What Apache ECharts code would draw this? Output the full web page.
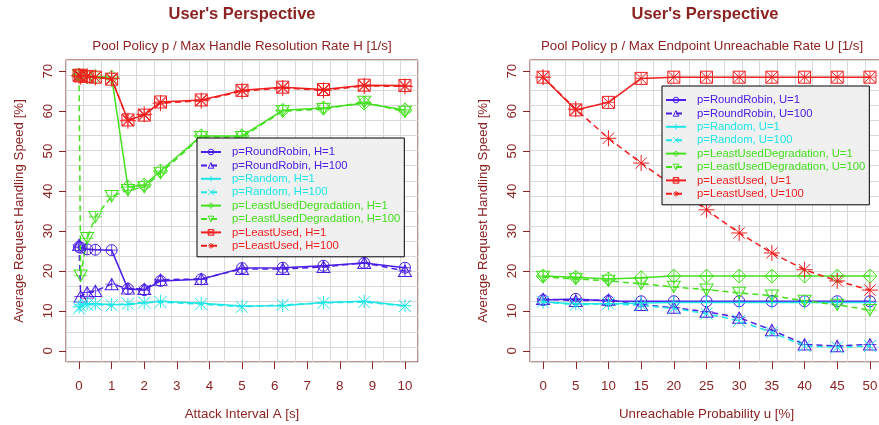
<!DOCTYPE html>
<html>
<head>
<meta charset="utf-8">
<script src="https://cdn.jsdelivr.net/npm/echarts@6/dist/echarts.min.js"></script>
<style>
  html, body { margin: 0; padding: 0; background: #ffffff; }
  #chart { width: 879px; height: 425px; }
</style>
</head>
<body>
<div id="chart"></div>
<script>
// ---- data: left panel (x = attack interval A [s]) ----
const attackInterval = [0, 0.05, 0.25, 0.5, 1, 1.5, 2, 2.5, 3.75, 5, 6.25, 7.5, 8.75, 10];
const rrH1      = [26.0, 25.8, 25.4, 25.3, 25.2, 15.5, 15.2, 17.5, 17.9, 20.7, 20.8, 21.3, 22.0, 20.8];
const rrH100    = [26.5, 13.6, 14.6, 15.0, 16.7, 15.6, 15.5, 17.8, 18.0, 20.5, 20.5, 21.0, 22.0, 20.0];
const randH1    = [11.0, 11.5, 11.8, 11.8, 11.6, 11.6, 12.0, 12.4, 11.9, 11.2, 11.3, 12.1, 12.4, 11.3];
const randH100  = [10.6, 11.2, 11.5, 11.6, 11.4, 11.8, 12.1, 12.2, 11.7, 11.0, 11.5, 12.0, 12.2, 11.2];
const ludH1     = [69.0, 68.8, 68.6, 68.6, 68.5, 41.0, 41.5, 45.0, 53.8, 53.8, 60.2, 60.8, 62.0, 60.3];
const ludH100   = [69.0, 18.8, 28.2, 33.5, 38.7, 40.2, 41.0, 44.5, 53.5, 53.5, 60.0, 60.5, 62.3, 59.8];
const luH1      = [69.0, 68.8, 68.7, 68.5, 68.0, 57.8, 59.0, 62.3, 62.8, 65.2, 66.0, 65.4, 66.5, 66.4];
const luH100    = [68.8, 68.6, 68.8, 68.4, 68.2, 57.6, 59.2, 62.0, 62.6, 65.0, 65.8, 65.2, 66.3, 66.2];

// ---- data: right panel (x = unreachable probability u [%]) ----
const unreachProb = [0, 5, 10, 15, 20, 25, 30, 35, 40, 45, 50];
const rrU1      = [12.7, 13.0, 12.5, 12.4, 12.4, 12.4, 12.4, 12.4, 12.4, 12.4, 12.4];
const rrU100    = [13.0, 12.5, 12.8, 11.5, 10.8, 9.8, 8.3, 5.2, 1.6, 1.2, 1.6];
const randU1    = [12.2, 11.8, 11.8, 12.0, 12.1, 12.1, 12.1, 12.1, 12.1, 12.1, 12.1];
const randU100  = [12.3, 11.5, 11.8, 11.4, 10.6, 9.3, 7.5, 4.6, 1.2, 0.9, 1.2];
const ludU1     = [18.7, 18.4, 18.0, 18.3, 18.7, 18.7, 18.7, 18.7, 18.7, 18.7, 18.7];
const ludU100   = [18.5, 18.0, 17.5, 16.8, 16.0, 15.3, 14.5, 13.8, 12.5, 11.5, 10.2];
const luU1      = [68.5, 60.3, 62.2, 68.2, 68.5, 68.5, 68.5, 68.5, 68.5, 68.5, 68.5];
const luU100    = [68.5, 60.5, 53.2, 47.0, 41.2, 35.3, 29.5, 24.5, 20.3, 17.5, 15.2];

// ---- tick labels ----
const leftXTicks  = [0, 1, 2, 3, 4, 5, 6, 7, 8, 9, 10];
const rightXTicks = [0, 5, 10, 15, 20, 25, 30, 35, 40, 45, 50];
const yTicks      = [0, 10, 20, 30, 40, 50, 60, 70];

// ---- text ----
const mainTitle   = "User's Perspective";
const leftSub     = 'Pool Policy p / Max Handle Resolution Rate H [1/s]';
const rightSub    = 'Pool Policy p / Max Endpoint Unreachable Rate U [1/s]';
const leftXName   = 'Attack Interval A [s]';
const rightXName  = 'Unreachable Probability u [%]';
const yName       = 'Average Request Handling Speed [%]';

// ---- styling ----
const AX = '#8B2323';
const FONT = 'Liberation Sans, Arial, Helvetica, sans-serif';
const FS = 13.3;
const C_RR = '#4A1EE6';
const C_RAND = '#1EE6E6';
const C_LUD = '#44E01E';
const C_LU = '#F01E1E';

const SYM = {
  circle: 'circle',
  triUp: 'path://M10 0 L20 17.32 L0 17.32 Z',
  triDown: 'path://M0 0 L20 0 L10 17.32 Z',
  diamond: 'path://M10 0 L20 10 L10 20 L0 10 Z',
  plus: 'path://M10 0 L10 20 M0 10 L20 10',
  cross: 'path://M0 0 L20 20 M20 0 L0 20',
  squareX: 'path://M0 0 L20 0 L20 20 L0 20 Z M0 0 L20 20 M20 0 L0 20',
  star: 'path://M10 0 L10 20 M0 10 L20 10 M2.93 2.93 L17.07 17.07 M17.07 2.93 L2.93 17.07'
};

function pairs(xs, ys) { return xs.map((x, i) => [x, ys[i]]); }

const series = [];
function addSeries(name, xs, ys, axis, color, dashed, symbol, size, withBar) {
  series.push({
    name: name,
    type: 'line',
    xAxisIndex: axis,
    yAxisIndex: axis,
    data: pairs(xs, ys),
    symbol: symbol,
    symbolSize: size,
    showAllSymbol: true,
    animation: false,
    lineStyle: { color: color, width: 1.5, type: dashed ? [6, 4] : 'solid' },
    itemStyle: { color: 'rgba(0,0,0,0)', borderColor: color, borderWidth: 1 },
    emphasis: { disabled: true }
  });
  if (withBar) {
    series.push({
      type: 'scatter',
      xAxisIndex: axis,
      yAxisIndex: axis,
      data: pairs(xs, ys),
      symbol: SYM.plus,
      symbolSize: size,
      silent: true,
      animation: false,
      itemStyle: { color: 'rgba(0,0,0,0)', borderColor: color, borderWidth: 1 }
    });
  }
}

// left panel series (axis index 0)
addSeries('p=RoundRobin, H=1', attackInterval, rrH1, 0, C_RR, false, SYM.circle, 11, true);
addSeries('p=RoundRobin, H=100', attackInterval, rrH100, 0, C_RR, true, SYM.triUp, [13, 11.3], true);
addSeries('p=Random, H=1', attackInterval, randH1, 0, C_RAND, false, SYM.plus, 13, false);
addSeries('p=Random, H=100', attackInterval, randH100, 0, C_RAND, true, SYM.cross, 12, false);
addSeries('p=LeastUsedDegradation, H=1', attackInterval, ludH1, 0, C_LUD, false, SYM.diamond, 14, true);
addSeries('p=LeastUsedDegradation, H=100', attackInterval, ludH100, 0, C_LUD, true, SYM.triDown, [13, 11.3], true);
addSeries('p=LeastUsed, H=1', attackInterval, luH1, 0, C_LU, false, SYM.squareX, 12, true);
addSeries('p=LeastUsed, H=100', attackInterval, luH100, 0, C_LU, true, SYM.star, 16, false);

// right panel series (axis index 2)
addSeries('p=RoundRobin, U=1', unreachProb, rrU1, 2, C_RR, false, SYM.circle, 11, true);
addSeries('p=RoundRobin, U=100', unreachProb, rrU100, 2, C_RR, true, SYM.triUp, [13, 11.3], true);
addSeries('p=Random, U=1', unreachProb, randU1, 2, C_RAND, false, SYM.plus, 13, false);
addSeries('p=Random, U=100', unreachProb, randU100, 2, C_RAND, true, SYM.cross, 12, false);
addSeries('p=LeastUsedDegradation, U=1', unreachProb, ludU1, 2, C_LUD, false, SYM.diamond, 14, true);
addSeries('p=LeastUsedDegradation, U=100', unreachProb, ludU100, 2, C_LUD, true, SYM.triDown, [13, 11.3], true);
addSeries('p=LeastUsed, U=1', unreachProb, luU1, 2, C_LU, false, SYM.squareX, 12, true);
addSeries('p=LeastUsed, U=100', unreachProb, luU100, 2, C_LU, true, SYM.star, 16, false);

const legendColors = [C_RR, C_RR, C_RAND, C_RAND, C_LUD, C_LUD, C_LU, C_LU];
function legendItems(suffix1, suffix100) {
  const base = ['p=RoundRobin', 'p=RoundRobin', 'p=Random', 'p=Random',
                'p=LeastUsedDegradation', 'p=LeastUsedDegradation', 'p=LeastUsed', 'p=LeastUsed'];
  return base.map((b, i) => ({
    name: b + (i % 2 === 0 ? suffix1 : suffix100),
    textStyle: { color: legendColors[i] }
  }));
}

function legend(left, top, items) {
  return {
    data: items,
    orient: 'vertical',
    left: left,
    top: top,
    padding: [8, 4, 5, 3],
    itemWidth: 20,
    itemHeight: 7,
    itemGap: 1.4,
    backgroundColor: '#F0F0F0',
    borderColor: '#000000',
    borderWidth: 1,
    borderRadius: 0,
    selectedMode: false,
    itemStyle: { color: 'rgba(0,0,0,0)', borderWidth: 1 },
    textStyle: { fontFamily: FONT, fontSize: 11.3, lineHeight: 12, padding: [0, 0, 0, 6] }
  };
}

// axis builders
function mainX(grid, min, max, ticks, name) {
  return {
    type: 'value', gridIndex: grid, min: min, max: max, position: 'bottom',
    name: name, nameLocation: 'middle', nameGap: 46,
    nameTextStyle: { color: AX, fontFamily: FONT, fontSize: FS },
    axisLine: { show: false, onZero: false },
    axisTick: { show: true, inside: false, length: 7, customValues: ticks, lineStyle: { color: AX } },
    axisLabel: { customValues: ticks, color: AX, fontFamily: FONT, fontSize: FS, margin: 18 },
    splitLine: { show: false }
  };
}
function mainY(grid, name) {
  return {
    type: 'value', gridIndex: grid, min: -2.8, max: 72.8, position: 'left',
    name: name, nameLocation: 'middle', nameGap: 40,
    nameTextStyle: { color: AX, fontFamily: FONT, fontSize: FS },
    axisLine: { show: false, onZero: false },
    axisTick: { show: true, inside: false, length: 7, customValues: yTicks, lineStyle: { color: AX } },
    axisLabel: { customValues: yTicks, color: AX, fontFamily: FONT, fontSize: FS, rotate: 90, margin: 11 },
    splitLine: { show: false }
  };
}
function gridAxis(grid, pos) {
  return {
    type: 'value', gridIndex: grid, min: 0, max: 20, interval: 1, position: pos,
    axisLine: { show: false, onZero: false }, axisTick: { show: false }, axisLabel: { show: false },
    splitLine: { show: true, lineStyle: { color: '#D9D9D9', width: 1 } }
  };
}

const option = {
  backgroundColor: '#ffffff',
  animation: false,
  title: [
    { text: mainTitle, left: 237, top: 1, textAlign: 'center',
      textStyle: { color: AX, fontFamily: FONT, fontSize: 16.5, fontWeight: 'bold' } },
    { text: mainTitle, left: 700, top: 1, textAlign: 'center',
      textStyle: { color: AX, fontFamily: FONT, fontSize: 16.5, fontWeight: 'bold' } },
    { text: leftSub, left: 237, top: 35, textAlign: 'center',
      textStyle: { color: AX, fontFamily: FONT, fontSize: FS, fontWeight: 'normal' } },
    { text: rightSub, left: 697, top: 35, textAlign: 'center',
      textStyle: { color: AX, fontFamily: FONT, fontSize: FS, fontWeight: 'normal' } }
  ],
  grid: [
    { left: 66, top: 60, width: 352, height: 302, show: true, borderColor: AX, borderWidth: 1,
      backgroundColor: 'transparent', outerBoundsMode: 'none' },
    { left: 530, top: 60, width: 353, height: 302, show: true, borderColor: AX, borderWidth: 1,
      backgroundColor: 'transparent', outerBoundsMode: 'none' }
  ],
  xAxis: [
    mainX(0, -0.4, 10.4, leftXTicks, leftXName),
    gridAxis(0, 'top'),
    mainX(1, -2, 52, rightXTicks, rightXName),
    gridAxis(1, 'top')
  ],
  yAxis: [
    mainY(0, yName),
    gridAxis(0, 'right'),
    mainY(1, yName),
    gridAxis(1, 'right')
  ],
  legend: [
    legend(197, 138, legendItems(', H=1', ', H=100')),
    legend(662, 86, legendItems(', U=1', ', U=100'))
  ],
  series: series
};

const chart = echarts.init(document.getElementById('chart'), null, { renderer: 'canvas' });
chart.setOption(option);
</script>
</body>
</html>
